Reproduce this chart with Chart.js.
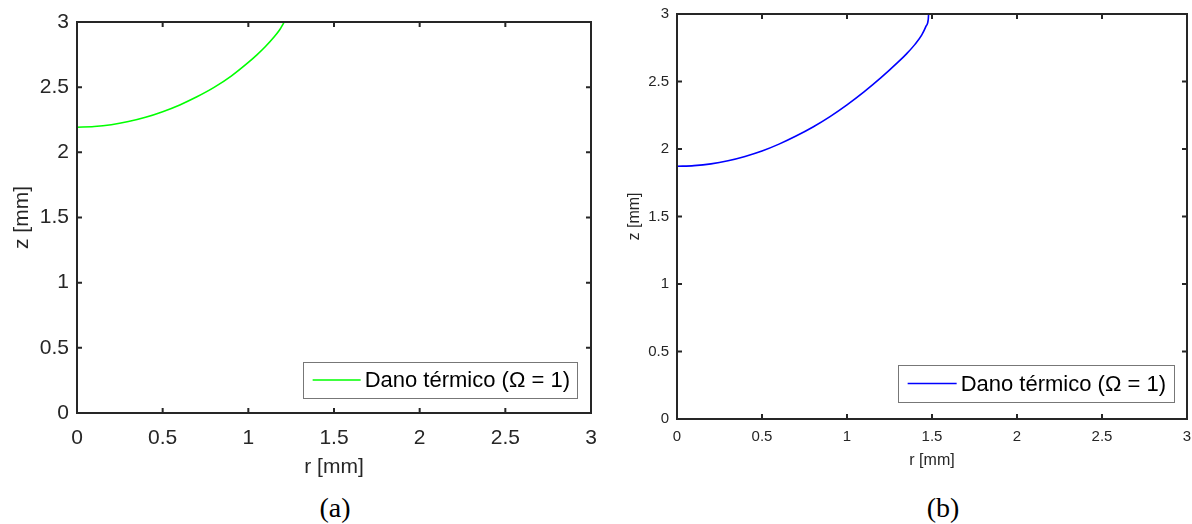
<!DOCTYPE html>
<html><head><meta charset="utf-8">
<script src="https://cdn.jsdelivr.net/npm/chart.js@4/dist/chart.umd.min.js"></script>
<style>
html,body{margin:0;padding:0;background:#fff;width:1192px;height:524px;overflow:hidden;}
canvas{position:absolute;top:0;}
#ca{left:0}
#cb{left:600px}
.cap{position:absolute;font-family:'Liberation Serif','Times New Roman',serif;font-size:28px;color:#000;transform:translateX(-50%);top:492px;line-height:32px;}
</style></head><body>
<canvas id="ca" width="600" height="480"></canvas>
<canvas id="cb" width="592" height="480"></canvas>
<div class="cap" style="left:335px">(a)</div>
<div class="cap" style="left:943px">(b)</div>
<script>
// ---- data ----
const rA = [0, 0.1, 0.2, 0.3, 0.4, 0.5, 0.6, 0.7, 0.8, 0.9, 1.0, 1.05, 1.1, 1.15, 1.18, 1.19, 1.205, 1.21];
const zA = [2.193, 2.198, 2.212, 2.236, 2.269, 2.312, 2.364, 2.426, 2.498, 2.585, 2.690, 2.748, 2.812, 2.885, 2.935, 2.955, 2.99, 3.0];
const rB = [0, 0.1, 0.2, 0.3, 0.4, 0.5, 0.6, 0.7, 0.8, 0.9, 1.0, 1.1, 1.2, 1.3, 1.35, 1.4, 1.44, 1.465, 1.478, 1.48];
const zB = [1.872, 1.877, 1.890, 1.913, 1.945, 1.985, 2.036, 2.096, 2.163, 2.240, 2.327, 2.423, 2.528, 2.643, 2.705, 2.775, 2.845, 2.910, 2.960, 3.0];
const xTickValues = [0, 0.5, 1, 1.5, 2, 2.5, 3];
const xTickLabels = ['0', '0.5', '1', '1.5', '2', '2.5', '3'];
const yTickValues = [0, 0.5, 1, 1.5, 2, 2.5, 3];
const yTickLabels = ['0', '0.5', '1', '1.5', '2', '2.5', '3'];
const seriesLabel = 'Dano térmico (Ω = 1)';
const xTitle = 'r [mm]';
const yTitle = 'z [mm]';
const colorA = '#00ff00';
const colorB = '#0000ff';

const FONT = "'Liberation Sans', Arial, Helvetica, sans-serif";
const AX = '#262626';

const framePlugin = {
  id: 'frame',
  afterDraw(chart, args, o) {
    const {ctx, chartArea: a, scales: {x, y}} = chart;
    ctx.save();
    ctx.strokeStyle = AX;
    ctx.lineWidth = o.lw;
    ctx.lineCap = 'butt';
    ctx.beginPath();
    x.ticks.forEach(t => {
      const px = x.getPixelForValue(t.value);
      ctx.moveTo(px, a.bottom); ctx.lineTo(px, a.bottom - o.tick);
      ctx.moveTo(px, a.top); ctx.lineTo(px, a.top + o.tick);
    });
    y.ticks.forEach(t => {
      const py = y.getPixelForValue(t.value);
      ctx.moveTo(a.left, py); ctx.lineTo(a.left + o.tick, py);
      ctx.moveTo(a.right, py); ctx.lineTo(a.right - o.tick, py);
    });
    ctx.stroke();
    ctx.strokeRect(a.left, a.top, a.right - a.left, a.bottom - a.top);
    // legend box
    const ds = chart.data.datasets[0];
    ctx.font = o.legendFont + 'px ' + FONT;
    const tw = ctx.measureText(ds.label).width;
    const bR = a.right - o.lgRight, bB = a.bottom - o.lgBottom;
    const bL = bR - (tw + o.lgPadL + o.lgPadR), bT = bB - o.lgH;
    ctx.fillStyle = '#fff';
    ctx.fillRect(bL, bT, bR - bL, bB - bT);
    ctx.strokeStyle = '#777';
    ctx.lineWidth = 1;
    ctx.strokeRect(Math.round(bL) + 0.5, Math.round(bT) + 0.5, Math.round(bR - bL), Math.round(bB - bT));
    const cy = (bT + bB) / 2;
    ctx.strokeStyle = ds.borderColor;
    ctx.lineWidth = ds.borderWidth;
    ctx.beginPath();
    ctx.moveTo(bL + 10, cy); ctx.lineTo(bL + o.lgPadL - 4, cy);
    ctx.stroke();
    ctx.fillStyle = '#000';
    ctx.textBaseline = 'middle';
    ctx.textAlign = 'left';
    ctx.fillText(ds.label, bL + o.lgPadL, cy + 1);
    ctx.restore();
  }
};

function makeChart(id, r, z, color, g) {
  const pts = r.map((v, i) => ({x: v, y: z[i]}));
  return new Chart(document.getElementById(id), {
    type: 'scatter',
    data: {datasets: [{
      label: seriesLabel, data: pts, showLine: true, borderColor: color,
      backgroundColor: color, borderWidth: 1.6, pointRadius: 0,
      cubicInterpolationMode: 'monotone'
    }]},
    options: {
      responsive: false, animation: false, devicePixelRatio: 1,
      layout: {padding: {left: 0, top: g.top, right: g.right, bottom: 0}},
      plugins: {
        legend: {display: false}, tooltip: {enabled: false},
        frame: g.frame
      },
      scales: {
        x: {
          type: 'linear', min: 0, max: 3,
          afterBuildTicks: s => { s.ticks = xTickValues.map(v => ({value: v})); },
          afterFit: s => { s.height = g.xH; s.paddingLeft = 0; s.paddingRight = 0; },
          ticks: {color: AX, font: {family: FONT, size: g.tickSize}, padding: g.xPad, autoSkip: false, maxRotation: 0,
                  callback: (v, i) => xTickLabels[i]},
          grid: {display: false, drawTicks: false}, border: {display: false},
          title: {display: true, text: xTitle, color: AX, font: {family: FONT, size: g.titleSize}, padding: {top: 0, bottom: g.xTitlePad}}
        },
        y: {
          type: 'linear', min: 0, max: 3,
          afterBuildTicks: s => { s.ticks = yTickValues.map(v => ({value: v})); },
          afterFit: s => { s.width = g.yW; s.paddingTop = 0; s.paddingBottom = 0; },
          ticks: {color: AX, font: {family: FONT, size: g.tickSize}, padding: g.yPad, autoSkip: false,
                  callback: (v, i) => yTickLabels[i]},
          grid: {display: false, drawTicks: false}, border: {display: false},
          title: {display: true, text: yTitle, color: AX, font: {family: FONT, size: g.titleSize}, padding: {top: g.yTitlePad, bottom: 0}}
        }
      }
    },
    plugins: [framePlugin]
  });
}

makeChart('ca', rA, zA, colorA, {
  top: 22, right: 9, xH: 67, yW: 77, tickSize: 21, titleSize: 21, xPad: 13, yPad: 8,
  xTitlePad: 0, yTitlePad: 10,
  frame: {lw: 2, tick: 5, legendFont: 22, lgRight: 14, lgBottom: 15, lgH: 36, lgPadL: 62, lgPadR: 7}
});
makeChart('cb', rB, zB, colorB, {
  top: 14, right: 5, xH: 61, yW: 77, tickSize: 15, titleSize: 16, xPad: 9, yPad: 8,
  xTitlePad: 10, yTitlePad: 25,
  frame: {lw: 2, tick: 5, legendFont: 22, lgRight: 13, lgBottom: 17, lgH: 37, lgPadL: 63, lgPadR: 8}
});
</script>
</body></html>
